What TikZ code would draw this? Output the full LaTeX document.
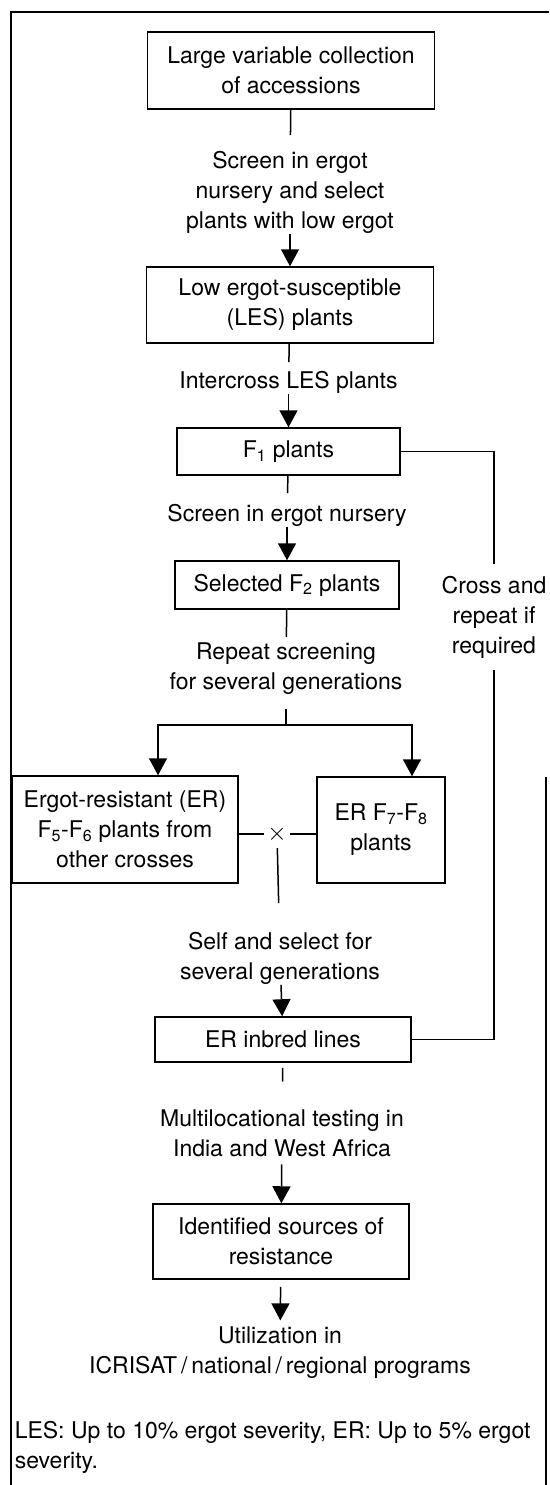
\documentclass[tikz,border=0pt]{standalone}
\usepackage{fontspec}
\setmainfont{TeX Gyre Heros}
\usetikzlibrary{arrows.meta}

\begin{document}
\begin{tikzpicture}[x=1pt,y=-1pt,line width=1.5pt,>={Triangle[length=17pt,width=18pt]},
    box node/.style={draw,rectangle,align=center,inner sep=0pt,font=\fontsize{23}{30}\selectfont},
    step text/.style={align=center,inner sep=0pt,font=\fontsize{23}{30}\selectfont}]
\useasboundingbox (0,0) rectangle (549,1485);

% frame
\draw (11,1485) |- (549,12);
\draw (546,777) -- (546,1485);

\node[box node,minimum width=287pt,minimum height=77pt] (large) at (291,70.5) {Large variable collection\\of accessions};
\node[step text] (scrA) at (290,192) {Screen in ergot\\nursery and select\\plants with low ergot};
\node[box node,minimum width=287pt,minimum height=76pt] (les) at (290,305) {Low ergot-susceptible\\(LES) plants};
\node[step text] (inter) at (288.5,382) {Intercross LES plants};
\node[box node,minimum width=223pt,minimum height=47pt] (fone) at (288.5,451.5) {F\textsubscript{1} plants};
\node[step text] (scrB) at (287,515) {Screen in ergot nursery};
\node[box node,minimum width=224pt,minimum height=48pt] (ftwo) at (287,585) {Selected F\textsubscript{2} plants};
\node[step text] (rep) at (286,668.5) {Repeat screening\\for several generations};
\coordinate (junc) at (286,725);
\coordinate (brL) at (158,725);
\coordinate (brR) at (412,725);
\node[box node,minimum width=226pt,minimum height=107pt] (other) at (125,829.5) {Ergot-resistant (ER)\\F\textsubscript{5}-F\textsubscript{6} plants from\\other crosses};
\node[box node,minimum width=128pt,minimum height=106pt] (ereight) at (381,830) {ER F\textsubscript{7}-F\textsubscript{8}\\plants};
\node[step text,font=\fontsize{34}{34}\selectfont,inner xsep=2.5pt,inner ysep=5pt] (cross) at (277,834) {$\times$};
\node[step text] (self) at (280,958) {Self and select for\\several generations};
\node[box node,minimum width=256pt,minimum height=45pt] (inbred) at (283,1039.5) {ER inbred lines};
\node[step text] (multi) at (282,1133) {Multilocational testing in\\India and West Africa};
\node[box node,minimum width=256pt,minimum height=75pt] (sources) at (281,1241.5) {Identified sources of\\resistance};
\node[step text] (util) at (280,1353) {Utilization in\\ICRISAT\,/\,national\,/\,regional programs};
\node[step text,align=left,anchor=west] (note) at (14,1447) {LES: Up to 10\% ergot severity, ER: Up to 5\% ergot\\severity.};
\node[step text] (again) at (494,617) {Cross and\\repeat if\\required};

% main column
\draw[shorten >=15pt] (large) -- (scrA);
\draw[->] (scrA) -- (les);
\draw[shorten >=8pt] (les) -- (inter);
\draw[->] (inter) -- (fone);
\draw[shorten >=10pt] (fone) -- (scrB);
\draw[->] (scrB) -- (ftwo);
\draw[shorten >=5pt] (ftwo) -- (rep);
\draw[shorten <=14pt] (rep) -- (junc);
\draw[<->] (brL |- other.north) -- (brL) -- (brR) -- (brR |- ereight.north);
\draw (other.east |- cross) -- (cross);
\draw (cross) -- (ereight.west |- cross);
\draw[shorten >=28pt] (cross) -- (self);
\draw[->] (self) -- (inbred);
\draw[shorten <=5pt,shorten >=27pt] (inbred) -- (multi);
\draw[->,shorten <=7pt] (multi) -- (sources);
\draw[->,shorten <=7pt,shorten >=6pt] (sources) -- (util);
% feedback loop
\draw[shorten >=11pt] (fone) -| (again);
\draw[shorten <=11pt] (again) |- (inbred);
\end{tikzpicture}
\end{document}
